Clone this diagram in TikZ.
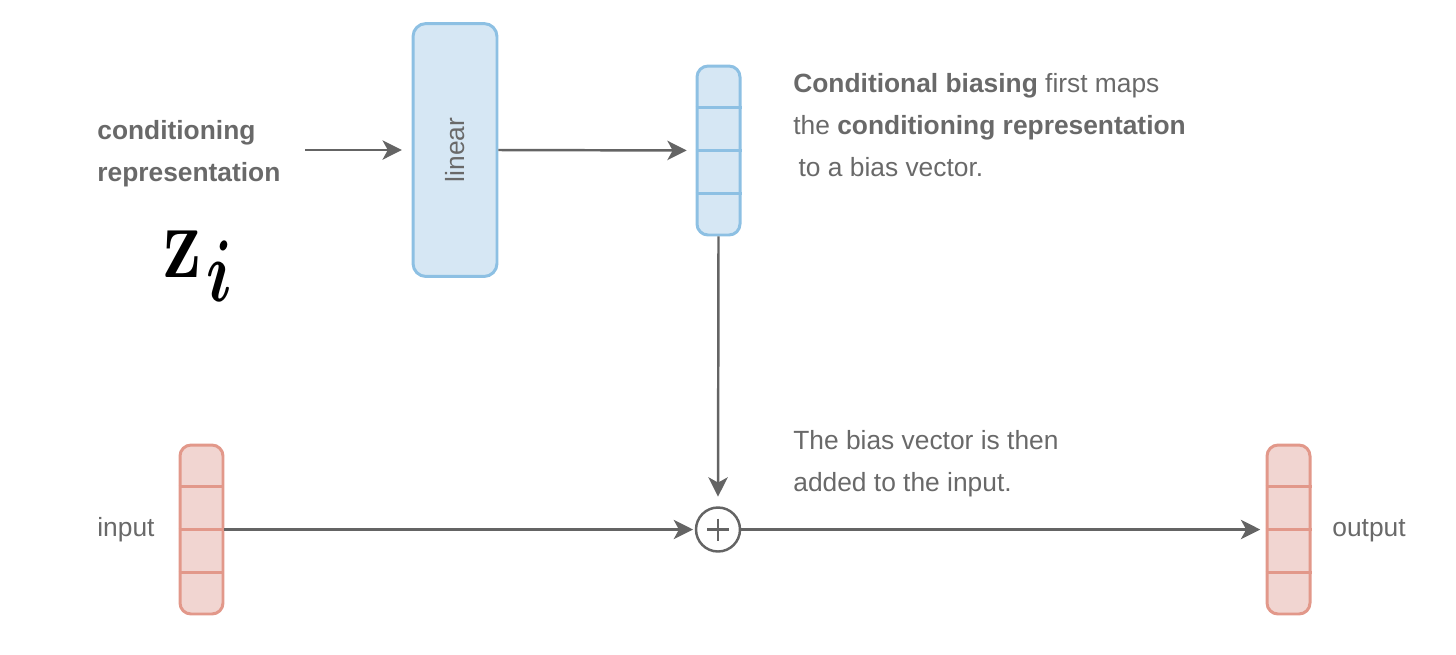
\documentclass[tikz,border=0pt]{standalone}
\usepackage{amsmath}
\usepackage[no-math]{fontspec}
\setmainfont{Liberation Sans}
\usetikzlibrary{arrows.meta,calc}
\definecolor{txtgray}{RGB}{105,105,105}
\definecolor{arrgray}{RGB}{100,100,100}
\definecolor{bluefill}{RGB}{214,231,244}
\definecolor{bluedraw}{RGB}{141,192,227}
\definecolor{redfill}{RGB}{241,213,209}
\definecolor{reddraw}{RGB}{226,152,138}

\begin{document}
\begin{tikzpicture}[x=0.02cm,y=-0.02cm,
  arr/.style={-{Stealth[length=11pt,width=11pt,inset=3pt]},draw=arrgray,line width=1.4pt},
  lbl/.style={text=txtgray,font=\fontsize{15}{24}\selectfont,inner sep=0pt,align=left},
  vecblue/.style={draw=bluedraw,fill=bluefill,line width=1.7pt,rounded corners=0.22cm,
    minimum width=0.86cm,minimum height=3.38cm,inner sep=0pt},
  vecred/.style={vecblue,draw=reddraw,fill=redfill}]
  \useasboundingbox (0,0) rectangle (1456,654);

  % conditioning side
  \node[lbl,anchor=west] (cond) at (97,154) {\bfseries conditioning\\\bfseries representation};
  \node[anchor=base west,inner sep=0pt] (z) at (163,277)
    {\scalebox{1.75}[2.4]{\Huge$\mathbf{z}_{\kern1.5pt\boldsymbol{i}}$}};
  \node[vecblue,minimum width=1.68cm,minimum height=5.06cm,rounded corners=0.26cm] (lin) at (455,150)
    {\textcolor{txtgray}{\fontsize{15}{18}\selectfont\rotatebox{90}{linear}}};
  \node[vecblue] (bias) at (718.5,150.5) {};

  % input / output
  \node[vecred] (in) at (201.5,529.5) {};
  \node[vecred] (out) at (1288.5,529.5) {};
  \node[circle,draw=arrgray,line width=1.4pt,minimum size=0.88cm,inner sep=0pt] (plus) at (718,529.5) {};
  \draw[arrgray,line width=1.5pt] (plus.center) ++(-11,0) -- ++(22,0)
    (plus.center) ++(0,-11) -- ++(0,22);

  \foreach \v/\c in {bias/bluedraw,in/reddraw,out/reddraw}
    \foreach \f in {0.25,0.5,0.75}
      \draw[\c,line width=1.7pt] ($(\v.north west)!\f!(\v.south west)$) -- ($(\v.north east)!\f!(\v.south east)$);

  \node[lbl,anchor=base west] (inlbl) at (97,536) {input};
  \node[lbl,anchor=base west] (outlbl) at (1332,536) {output};

  % explanations
  \node[lbl,anchor=north west] (note1) at (793,73)
    {\textbf{Conditional biasing} first maps\\the \textbf{conditioning representation}\\\hspace*{3pt}to a bias vector.};
  \node[lbl,anchor=north west] (note2) at (793,430)
    {The bias vector is then\\added to the input.};

  % connectors
  \draw[arr,shorten <=14pt,shorten >=5.5pt] (cond.east |- lin.west) -- (lin.west);
  \draw[arr,shorten >=5pt] (lin.east) -- (bias.west);
  \draw[arr,shorten >=5.5pt] (bias.south) -- (plus.north);
  \draw[arr,shorten >=1pt] (in.east) -- (plus.west);
  \draw[arr,shorten >=3pt] (plus.east) -- (out.west);
\end{tikzpicture}
\end{document}
